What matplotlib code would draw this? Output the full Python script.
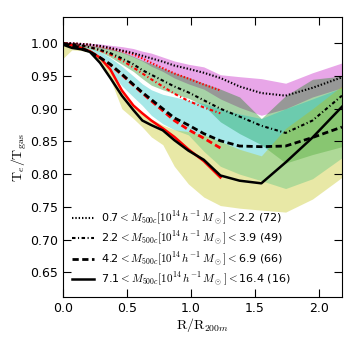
import matplotlib
matplotlib.use("Agg")
import matplotlib.pyplot as plt
import numpy as np

# -----------------------------
# Data
# -----------------------------

R = [0.0, 0.07, 0.14, 0.21, 0.29, 0.37, 0.46, 0.55, 0.62, 0.69,
     0.78, 0.87, 0.98, 1.10, 1.23, 1.38, 1.55, 1.74, 1.95, 2.18]
R_SUB = R[:15]

# black lines (full sample)
t_bin1 = [1.000, 1.000, 0.999, 0.998, 0.996, 0.993, 0.989, 0.985, 0.981, 0.977,
          0.972, 0.966, 0.961, 0.955, 0.947, 0.934, 0.924, 0.920, 0.932, 0.948]
t_bin2 = [1.000, 0.999, 0.997, 0.994, 0.990, 0.985, 0.977, 0.968, 0.959, 0.952,
          0.943, 0.934, 0.925, 0.913, 0.900, 0.888, 0.874, 0.863, 0.882, 0.920]
t_bin3 = [0.999, 0.997, 0.993, 0.987, 0.978, 0.968, 0.953, 0.937, 0.925, 0.914,
          0.900, 0.886, 0.875, 0.862, 0.851, 0.843, 0.842, 0.843, 0.856, 0.872]
t_bin4 = [0.998, 0.993, 0.991, 0.987, 0.970, 0.947, 0.920, 0.898, 0.882, 0.875,
          0.867, 0.852, 0.836, 0.822, 0.798, 0.790, 0.786, 0.818, 0.856, 0.903]

# red lines (sub-sample)
r_bin1 = [1.000, 1.000, 0.999, 0.998, 0.995, 0.992, 0.988, 0.983, 0.977, 0.970,
          0.962, 0.954, 0.946, 0.937, 0.928]
r_bin2 = [1.000, 0.999, 0.997, 0.994, 0.989, 0.983, 0.974, 0.963, 0.954, 0.945,
          0.934, 0.923, 0.912, 0.902, 0.893]
r_bin3 = [0.999, 0.997, 0.993, 0.987, 0.978, 0.967, 0.952, 0.936, 0.924, 0.912,
          0.897, 0.882, 0.868, 0.855, 0.840]
r_bin4 = [1.000, 0.997, 0.993, 0.988, 0.978, 0.960, 0.928, 0.905, 0.893, 0.882,
          0.870, 0.857, 0.838, 0.820, 0.795]

# scatter bands (upper, lower)
hi_bin1 = [1.002, 1.002, 1.001, 1.000, 0.999, 0.997, 0.995, 0.992, 0.988, 0.985,
           0.979, 0.973, 0.968, 0.964, 0.952, 0.949, 0.946, 0.939, 0.955, 0.970]
lo_bin1 = [0.997, 0.997, 0.996, 0.995, 0.993, 0.990, 0.986, 0.979, 0.973, 0.965,
           0.957, 0.947, 0.938, 0.930, 0.915, 0.902, 0.890, 0.900, 0.918, 0.932]
hi_bin2 = [1.001, 1.000, 0.999, 0.997, 0.995, 0.992, 0.987, 0.980, 0.974, 0.969,
           0.962, 0.955, 0.948, 0.939, 0.930, 0.918, 0.885, 0.920, 0.945, 0.950]
lo_bin2 = [0.998, 0.997, 0.995, 0.992, 0.987, 0.979, 0.968, 0.957, 0.946, 0.936,
           0.929, 0.923, 0.916, 0.905, 0.880, 0.862, 0.845, 0.817, 0.830, 0.842]
hi_bin3 = [1.000, 0.999, 0.997, 0.993, 0.987, 0.978, 0.965, 0.950, 0.938, 0.929,
           0.922, 0.918, 0.913, 0.908, 0.900, 0.892, 0.885, 0.900, 0.915, 0.932]
lo_bin3 = [0.997, 0.995, 0.991, 0.985, 0.975, 0.958, 0.935, 0.918, 0.905, 0.890,
           0.877, 0.868, 0.860, 0.835, 0.812, 0.800, 0.790, 0.778, 0.793, 0.825]
hi_bin4 = [1.000, 0.998, 0.995, 0.990, 0.980, 0.962, 0.930, 0.905, 0.893, 0.884,
           0.875, 0.868, 0.865, 0.860, 0.850, 0.838, 0.828, 0.870, 0.900, 0.935]
lo_bin4 = [0.977, 0.990, 0.989, 0.986, 0.972, 0.945, 0.900, 0.885, 0.872, 0.857,
           0.845, 0.812, 0.785, 0.765, 0.752, 0.748, 0.745, 0.742, 0.762, 0.795]

LABELS = [
    r"0.7$<M_{500c}[10^{14}\,h^{-1}\,M_\odot]<$2.2 (72)",
    r"2.2$<M_{500c}[10^{14}\,h^{-1}\,M_\odot]<$3.9 (49)",
    r"4.2$<M_{500c}[10^{14}\,h^{-1}\,M_\odot]<$6.9 (66)",
    r"7.1$<M_{500c}[10^{14}\,h^{-1}\,M_\odot]<$16.4 (16)",
]

# -----------------------------
# Plot
# -----------------------------

plt.rcParams["mathtext.fontset"] = "cm"
plt.rcParams["lines.scale_dashes"] = False

fig = plt.figure(figsize=(3.5, 3.5), dpi=100)
ax = fig.add_axes([0.18, 0.151, 0.797, 0.80])

bands = [(hi_bin1, lo_bin1, "m"), (hi_bin2, lo_bin2, "g"),
         (hi_bin3, lo_bin3, "c"), (hi_bin4, lo_bin4, "y")]
for hi, lo, col in bands:
    ax.fill_between(R, lo, hi, color=col, alpha=0.35, lw=0)

styles = [((0, (1.0, 1.4)), 1.5),
          ((0, (2.5, 1.8, 0.8, 1.8)), 1.5),
          ((0, (4.5, 2.5)), 2.0),
          ("-", 1.8)]
reds = [r_bin1, r_bin2, r_bin3, r_bin4]
blacks = [t_bin1, t_bin2, t_bin3, t_bin4]

for vals, (ls, lw) in zip(reds, styles):
    ax.plot(R_SUB, vals, color="r", ls=ls, lw=lw)
for vals, (ls, lw), lab in zip(blacks, styles, LABELS):
    ax.plot(R, vals, color="k", ls=ls, lw=lw, label=lab)

ax.set_xlim(0, 2.18)
ax.set_ylim(0.612, 1.04)
ax.set_xticks([0.0, 0.5, 1.0, 1.5, 2.0])
ax.set_yticks([0.65, 0.70, 0.75, 0.80, 0.85, 0.90, 0.95, 1.00])
ax.tick_params(direction="in", top=True, right=True, length=6, labelsize=9)

ax.set_xlabel(r"$\mathrm{R/R}_{200m}$", fontsize=10, labelpad=1)
ax.set_ylabel(r"$\mathrm{T}_e/\mathrm{T}_{\rm gas}$", fontsize=10, labelpad=1)

ax.legend(loc="lower left", frameon=False, fontsize=8, handlelength=2.0,
          handletextpad=0.6, labelspacing=0.3, borderaxespad=0.4)

fig.savefig("out.png", dpi=100)
